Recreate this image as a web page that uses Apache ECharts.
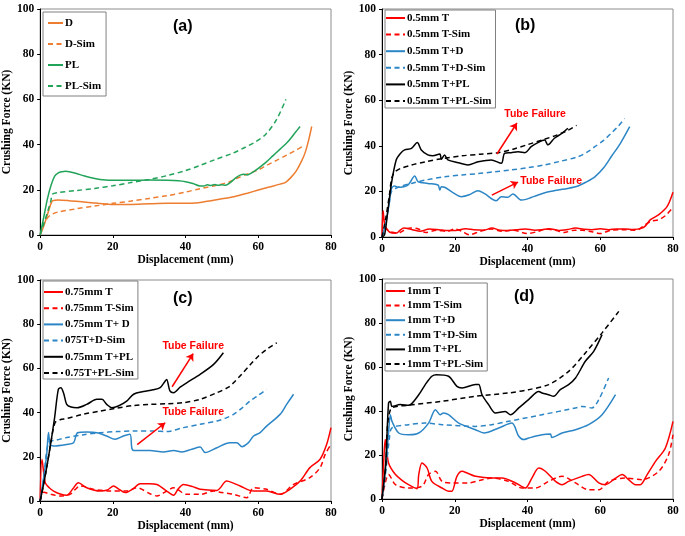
<!DOCTYPE html>
<html><head><meta charset="utf-8">
<script src="https://cdn.jsdelivr.net/npm/echarts@6/dist/echarts.min.js"></script>
<style>html,body{margin:0;padding:0;background:#fff}#c{width:685px;height:536px}</style>
</head><body><div id="c"></div>
<script>
// ---------- tick values ----------
const xTicks = [0, 20, 40, 60, 80];
const yTicks = [0, 20, 40, 60, 80, 100];
const panelLabels = ['(a)', '(b)', '(c)', '(d)'];
const xName = 'Displacement (mm)';
const yName = 'Crushing Force (KN)';
const annotText = 'Tube Failure';

// ---------- panel (a) ----------
const aNames = ['D', 'D-Sim', 'PL', 'PL-Sim'];
const aD = [[0,0],[1,4],[2,9],[3,14],[3.5,15.2],[5,15.5],[8,15.2],[12,14.6],[16,14],[20,13.5],[25,13.5],[30,13.8],[35,14],[40,14],[43.5,14.3],[47,15.2],[50,16],[53.6,17],[57,18.5],[60,19.9],[63,21.2],[66,22.5],[67.5,23.3],[69,25.5],[70.5,28.5],[72,33],[73,37],[74,43],[74.7,48]];
const aDSim = [[0,0],[1,5],[2,7.5],[3,9],[5,10.2],[10,11.6],[15,12.8],[20,14],[25,15],[30,16.2],[35,17.4],[40,19],[44,20.5],[48,21.8],[52,23.5],[54,25],[57,27],[60,28.8],[62.5,31],[65,33],[68,35.5],[70,37.2],[72,39]];
const aPL = [[0,0],[1,8],[2,16],[3,22],[4,26],[5,27.5],[6,28],[7,28.2],[8,28],[10,27.2],[12,26.2],[15,25],[18,24.3],[20,24.2],[25,24.2],[30,24.3],[35,24.2],[38,24],[40,23.6],[42,22.8],[44,21.7],[45,21.7],[46,22.2],[47,21.9],[48,22.3],[49,22],[50,22.2],[51,22],[52,22.8],[54,25.5],[55,26.5],[56,26.9],[57,26.6],[58,27.3],[60,29.5],[62,32],[64,35],[66,38],[68,41],[70,45],[71.5,48]];
const aPLSim = [[0,0],[1,5],[2,10],[3,15.5],[3.3,18],[5,18.8],[10,19.7],[15,20.6],[20,21.8],[25,23.2],[30,24.6],[35,26.3],[40,28.5],[44,30.8],[48,33.3],[53,36.2],[56,38.5],[59,41],[62,44.5],[65,51],[67.6,60]];

// ---------- panel (b) ----------
const bNames = ['0.5mm T', '0.5mm T-Sim', '0.5mm T+D', '0.5mm T+D-Sim', '0.5mm T+PL', '0.5mm T+PL-Sim'];
const bT = [[0,0],[0.3,11.5],[0.7,6],[1.4,3.2],[2.75,1.8],[4.1,1.8],[5,3],[6,3.9],[8.3,3.2],[10.5,2.5],[13,3.5],[15.6,3.2],[18,2.8],[20.2,2.9],[23,3.6],[25.2,3.2],[28,3],[30.2,3.9],[32.5,3],[34.8,2.9],[37,3.2],[39.4,3.5],[42,3],[44,3.2],[46,3.6],[48.6,2.9],[51,3.3],[53.2,3.9],[55.5,3.4],[57.7,3.2],[60,3.6],[62.3,3.2],[64.5,3.5],[66.9,3.5],[69,3.3],[71.5,3.9],[72.5,5],[73.8,7.6],[76.1,9.8],[78.4,13.4],[80,19.6]];
const bTSim = [[0,0],[1,4],[2,2.5],[4,1.8],[5,2],[7,3.8],[8,4],[10,3.5],[12,2],[15,3],[18,2.5],[20,3.5],[22,2.5],[24,1],[27,2.5],[30,3.5],[33,2.5],[36,3],[40,1.5],[43,2.5],[45,3.5],[48,2.8],[50,2],[53,3],[55,3],[58,2.2],[60,1.5],[63,3],[66,3.2],[70,3],[72,5],[74,7],[76,7.5],[78,9.5],[80,13]];
const bTD = [[0,0],[1,6],[2,15],[2.6,21.3],[3.5,22.4],[4.4,21.8],[7.1,22.8],[9,26.8],[9.9,24.3],[12.6,23.5],[15.4,22.8],[15.9,20.6],[16.3,22],[17.2,21.8],[19.5,19.5],[21.8,17.7],[24,18.5],[26.4,20.3],[28.2,19],[31.4,15.9],[32.8,17.7],[34.6,17.4],[36,18.9],[38.3,16.2],[39.6,16.5],[41,17.3],[42.9,18.4],[45,19.5],[48.4,20.6],[51,21.3],[53.9,22.4],[56,24],[58.5,26.4],[61,30.5],[63,35.2],[65.5,41],[68.1,48.4]];
const bTDSim = [[0,0],[1,6],[2,15],[2.6,19.9],[4.4,21.8],[8.1,23.5],[12,25],[17.2,26.4],[22,27.2],[26.4,27.8],[31,28.6],[35.5,29.4],[40,30.4],[44.7,31.6],[49,33.2],[53.9,35.2],[56.5,37.3],[58.5,39.6],[61,42.5],[63,45.5],[65,48.7],[66.7,52]];
const bTPL = [[0,0],[0.7,0.9],[1.5,10],[2.6,23.5],[3.9,33.8],[5,36.5],[6.2,38.2],[8.1,38.9],[9.7,41.4],[10.8,38.2],[12.6,36],[14,35.6],[15.9,36.4],[16.3,34.1],[17.2,36],[18.1,33.8],[21,32.6],[23.6,31.6],[26.4,33],[28,33.4],[30,33.8],[32.8,32.3],[33.7,36.7],[35.5,37],[37.4,37.4],[39.3,37],[41,39.6],[43,41.5],[44.7,42.5],[45.6,40.4],[47.4,43.3],[49.5,45.5],[51.1,47.7]];
const bTPLSim = [[0,0],[1,8],[2,18],[2.7,26],[3.5,28.5],[5,30],[8,31.5],[12,33],[17,34.5],[22,35.6],[27,36.3],[32,37],[36,38.5],[40,40.5],[44,42.5],[48,44.7],[51,46.7],[53.5,49]];

// ---------- panel (c) ----------
const cNames = ['0.75mm T', '0.75mm T-Sim', '0.75mm T+ D', '075T+D-Sim', '0.75mm T+PL', '0.75T+PL-Sim'];
const cT = [[0,0],[0.5,18.9],[1.4,8.3],[2.5,6],[3.7,4.5],[5.5,3.2],[7.3,2.6],[9,5.5],[10.5,8.3],[12.8,6],[16.5,4.5],[18.5,5],[20.2,6.8],[21.5,5.5],[23.4,3.8],[25.5,5.5],[27.5,7.8],[30,7.8],[32.1,7.5],[34.8,4.5],[36.7,2.6],[38,5.5],[39.4,7.5],[42,6.5],[44,5.3],[48.6,4.8],[51.3,9],[53,8.2],[55,6.8],[58.7,4.5],[62.3,4.5],[66,3],[68.7,5.3],[71.5,9],[74.2,15.1],[77,18.9],[78.8,25.6],[80,33.2]];
const cTSim = [[0,0],[1,4],[3,3],[5.5,2.3],[8.2,3],[9.5,5],[11,6.8],[14.7,5.3],[19.2,4.5],[23.8,4.5],[26.6,6],[30.2,3.3],[32.1,2.3],[34.8,4.5],[36.7,6],[40.3,3],[44,3],[47.7,4.5],[50,3.8],[53.2,3],[56.8,1.5],[58.7,6],[62.3,5.3],[66,3],[69.7,7.5],[74.2,10.6],[77,15.1],[78.4,21.1],[80,25.6]];
const cTD = [[0,0],[1,11],[1.8,21],[2.3,31],[2.75,25.6],[3.7,24.9],[7.3,25.6],[9.2,26.4],[10.3,30.9],[12.8,31.2],[15.6,30.9],[18.3,29.4],[20.6,27.9],[22.9,29.4],[24.7,30.2],[25.2,24.1],[25.7,22.9],[30.2,22.9],[33.9,22.2],[36.7,22.9],[39,22.2],[41.7,23.4],[44,24.4],[45.4,21.9],[48.6,24.1],[52.2,26.4],[54.1,26.4],[55.5,24.6],[57.3,26.4],[58.7,29.4],[60.5,30.9],[62.3,33.9],[66,39.2],[67.8,43.7],[69.7,48.3]];
const cTDSim = [[0,0],[1,10],[2.3,26.4],[4.5,27.6],[7.3,28.7],[12,30],[16.5,30.9],[21,31.4],[25.7,31.7],[31.2,31.7],[34.8,31.4],[39.4,33.2],[44,34.7],[48.6,36.2],[51,37.5],[53.2,39.2],[55.5,42],[57.7,45.2],[60,47.8],[62.3,50.5]];
const cTPL = [[0,0],[1,8],[2,17],[3,27],[4,38],[5,50.5],[5.7,51.3],[6.5,48.5],[7.3,43.7],[8.5,42.5],[10.1,42.2],[12.8,43.7],[15.6,46],[17,46],[18.3,43.7],[19.7,42.2],[21.5,43],[23.8,45.2],[25.7,48.3],[28.4,49.5],[31,50.3],[33,51.3],[34.4,54.3],[34.8,55],[35.7,49.8],[36.7,49],[38.5,51.5],[40.3,53.5],[44,57.3],[47.7,61.8],[50.4,67.1]];
const cTPLSim = [[0,0],[1,8],[2,17],[3,27],[4.1,35.4],[5.5,36.8],[7.3,37.3],[12,39.3],[16.5,40.7],[21,42],[25.7,43.2],[30,43.7],[34.8,44],[39.4,44.5],[44,46],[48.6,49],[51.8,51.5],[53.2,53.5],[55.5,57.5],[57.7,61.5],[60,65.5],[62.3,68.6],[65.1,71.6]];

// ---------- panel (d) ----------
const dNames = ['1mm T', '1mm T-Sim', '1mm T+D', '1mm T+D-Sim', '1mm T+PL', '1mm T+PL-Sim'];
const dT = [[0,0],[0.5,18],[0.9,27],[1.8,16.4],[3.7,11.1],[5.5,8.5],[7.3,6.5],[9.6,4.7],[10.1,11.1],[11,16.4],[12.4,14.1],[13.7,8],[16.5,5],[18.3,3.5],[19.2,3.5],[20.6,10.3],[22,12.6],[23.4,11.8],[25.7,10.3],[30.2,9.5],[33,9.5],[36.7,7.3],[39.4,5],[41.2,9.5],[43.1,14.1],[44.9,12.6],[47.7,8],[49.5,6.5],[51.3,8],[55,10.3],[56.8,11.1],[59.6,7.3],[61.4,6.5],[64.2,9.5],[66,11.1],[67.8,8.8],[69.7,6.5],[71,6.5],[72.9,11.1],[75.2,17.1],[77.9,23.2],[80,35.3]];
const dTSim = [[0,0],[1,8],[1.8,11.1],[3.7,6.5],[7.3,5],[11,5.8],[12.8,11.1],[14.7,12.6],[16.5,8],[19.2,7.3],[23.8,7.3],[27,8.5],[30.2,9.5],[34.8,8],[38.5,5],[42.2,5],[45.8,8],[49.5,10.3],[53.2,7.3],[56.8,4.2],[59.6,4.2],[62.3,8],[67,9.5],[71.5,8.8],[76.1,12.6],[78.8,20.2],[80,29.2]];
const dTD = [[0,0],[1,14],[1.8,30],[2.3,38.3],[2.75,35.3],[4.6,30],[7.3,29.2],[10.1,30],[12.8,34.5],[14.7,40.6],[16,38.3],[16.9,39.1],[18.3,38.3],[21.1,34.5],[25.7,31.5],[28,30],[32.1,32.3],[35.7,34.5],[37.6,28.5],[39,27],[40.3,27.7],[44,29.2],[46.3,29.5],[46.7,28],[49.5,30],[53.2,31.5],[56.8,33.8],[60.5,38.3],[64.2,47.4]];
const dTDSim = [[0,0],[1,12],[2,27],[2.75,32.3],[7.3,33.8],[11.9,34.5],[16.5,33.8],[25.7,33],[30.2,33.8],[34.8,35.3],[44,38.3],[53.2,41.4],[55,42.1],[57.7,41.4],[59.6,45.2],[62.3,55]];
const dTPL = [[0,0],[1,16],[1.8,43.6],[2.3,44.4],[2.75,42.1],[5,42.9],[7.3,42.6],[10.1,47.4],[11.9,52],[13.7,55.8],[15,56.5],[18.3,55.8],[20.6,51.2],[22,50.5],[25.7,52],[26.6,52],[27.5,47.4],[29.3,42.9],[31.2,39.1],[33.9,39.8],[35.3,38.3],[37.6,41.4],[40.3,45.2],[43.1,48.9],[44,48.2],[45.8,47.4],[47.2,46.7],[49,49.7],[51.3,52],[53.2,55],[55.9,62.6],[58.2,67.1],[60.5,74.7]];
const dTPLSim = [[0,0],[1,14],[2.3,40.6],[7.3,42.6],[16.5,44.4],[25.7,46.7],[34.8,48.2],[40.3,49.7],[45.8,52],[51.3,58],[55.9,66.4],[60.5,75.5],[65.1,85.3]];

// annotation anchors (data coords)
const bArrow1 = [[31.6,36.4],[37.1,50]];
const bArrow2 = [[30.2,18.4],[37.4,24.1]];
const bText1 = [42.1,54];
const bText2 = [46.5,24.6];
const cArrow1 = [[36.3,51.7],[42.1,66.7]];
const cArrow2 = [[26.7,25.5],[34.4,35.4]];
const cText1 = [42.1,70.3];
const cText2 = [42.1,40.0];

// ---------- styling ----------
const ORANGE = '#ED7D31', GREEN = '#22A35A', RED = '#FF0000', BLUE = '#2C86C6', BLACK = '#000000';
const SERIF = '"Liberation Serif","Times New Roman",serif';
const SANS = '"Liberation Sans",Arial,sans-serif';
const DASH = [5, 3.5];

const grids = [
  {left: 40, top: 9, width: 291, height: 226},
  {left: 382, top: 9, width: 291, height: 228},
  {left: 40, top: 280, width: 291, height: 221},
  {left: 382, top: 279, width: 291, height: 220}
];
const legendPos = [
  {left: 43, top: 12, gap: 9, iw: 15, pad: [5, 5, 4, 4]},
  {left: 385, top: 10, gap: 4.6, iw: 19, pad: [2, 4, 1, 0]},
  {left: 43, top: 281, gap: 4.2, iw: 19, pad: [5, 4, 0, 0]},
  {left: 385, top: 283, gap: 2.6, iw: 19, pad: [2, 4, 1, 0]}
];
const labelPos = [
  {left: 173, top: 19}, {left: 515, top: 18}, {left: 173, top: 291}, {left: 514, top: 289}
];

const panels = [
  {names: aNames, data: [aD, aDSim, aPL, aPLSim], colors: [ORANGE, ORANGE, GREEN, GREEN]},
  {names: bNames, data: [bT, bTSim, bTD, bTDSim, bTPL, bTPLSim], colors: [RED, RED, BLUE, BLUE, BLACK, BLACK]},
  {names: cNames, data: [cT, cTSim, cTD, cTDSim, cTPL, cTPLSim], colors: [RED, RED, BLUE, BLUE, BLACK, BLACK]},
  {names: dNames, data: [dT, dTSim, dTD, dTDSim, dTPL, dTPLSim], colors: [RED, RED, BLUE, BLUE, BLACK, BLACK]}
];

function arrowLine(pair) {
  return [{coord: pair[0]}, {coord: pair[1]}];
}
function textPoint(c) {
  return {coord: c, symbol: 'rect', symbolSize: 1, itemStyle: {color: 'rgba(0,0,0,0)'},
    label: {show: true, position: 'inside', formatter: annotText, color: RED, fontWeight: 'bold', fontFamily: SANS, fontSize: 10.5}};
}
const annotations = {
  1: {lines: [bArrow1, bArrow2], texts: [bText1, bText2]},
  2: {lines: [cArrow1, cArrow2], texts: [cText1, cText2]}
};

const xAxes = [], yAxes = [], series = [], legends = [], titles = [];
panels.forEach((p, i) => {
  xAxes.push({
    type: 'value', gridIndex: i, min: xTicks[0], max: xTicks[xTicks.length - 1], interval: xTicks[1] - xTicks[0],
    name: xName, nameLocation: 'middle', nameGap: 15,
    nameTextStyle: {fontFamily: SERIF, fontWeight: 'bold', fontSize: 11.5, color: '#000'},
    axisLine: {show: true, onZero: false, lineStyle: {color: '#000', width: 1}},
    axisTick: {show: true, length: 3, lineStyle: {color: '#000'}},
    axisLabel: {margin: 6, fontFamily: SERIF, fontWeight: 'bold', fontSize: 11.5, color: '#000'},
    splitLine: {show: false}
  });
  yAxes.push({
    type: 'value', gridIndex: i, min: yTicks[0], max: yTicks[yTicks.length - 1], interval: yTicks[1] - yTicks[0],
    name: yName, nameLocation: 'middle', nameGap: 25,
    nameTextStyle: {fontFamily: SERIF, fontWeight: 'bold', fontSize: 11.5, color: '#000'},
    axisLine: {show: true, onZero: false, lineStyle: {color: '#000', width: 1}},
    axisTick: {show: true, length: 3, lineStyle: {color: '#000'}},
    axisLabel: {margin: 6, fontFamily: SERIF, fontWeight: 'bold', fontSize: 11.5, color: '#000'},
    splitLine: {show: false}
  });
  p.names.forEach((n, k) => {
    const s = {
      name: n, type: 'line', xAxisIndex: i, yAxisIndex: i, data: p.data[k],
      symbol: 'none', smooth: 0.3, animation: false, z: 3,
      lineStyle: {color: p.colors[k], width: 1.5, type: (k % 2 === 1) ? DASH : 'solid'},
      itemStyle: {color: p.colors[k]}
    };
    const ann = annotations[i];
    if (ann && k === p.names.length - 2) {
      s.markLine = {
        silent: true, symbol: ['none', 'arrow'], symbolSize: 7, animation: false,
        lineStyle: {color: RED, width: 1.5, type: 'solid'}, itemStyle: {color: RED},
        label: {show: false}, data: ann.lines.map(arrowLine)
      };
      s.markPoint = {silent: true, animation: false, data: ann.texts.map(textPoint)};
    }
    series.push(s);
  });
  legends.push({
    orient: 'vertical', left: legendPos[i].left, top: legendPos[i].top,
    data: p.names, itemWidth: legendPos[i].iw, itemHeight: 12, itemGap: legendPos[i].gap,
    padding: legendPos[i].pad, borderColor: '#808080', borderWidth: 1, backgroundColor: '#fff',
    selectedMode: false,
    itemStyle: {opacity: 0},
    textStyle: {fontFamily: SERIF, fontWeight: 'bold', fontSize: 11, lineHeight: 12, color: '#000', padding: [0, 0, 0, -3]}
  });
  titles.push({
    text: panelLabels[i], left: labelPos[i].left, top: labelPos[i].top, padding: 0,
    textStyle: {fontFamily: SANS, fontWeight: 'bold', fontSize: 16, color: '#000'}
  });
});

const chart = echarts.init(document.getElementById('c'), null, {renderer: 'canvas'});
chart.setOption({
  animation: false,
  backgroundColor: '#fff',
  title: titles,
  legend: legends,
  grid: grids.map(g => Object.assign({show: true, borderColor: '#8c8c8c', borderWidth: 1, containLabel: false}, g)),
  xAxis: xAxes,
  yAxis: yAxes,
  series: series
});
</script></body></html>
